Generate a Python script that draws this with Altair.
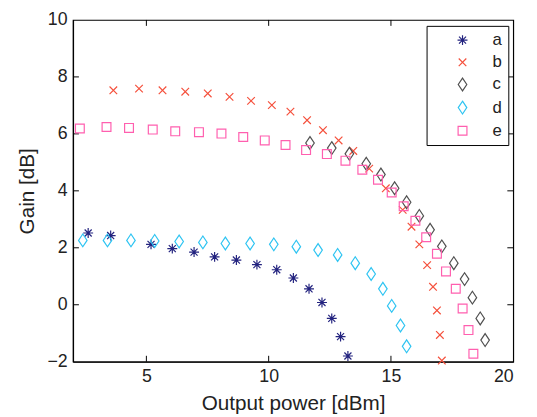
import altair as alt
import pandas as pd

# ---- data ----
a_x = [2.62, 3.54, 5.19, 6.06, 6.95, 7.79, 8.68, 9.52, 10.33, 11.01, 11.65, 12.18, 12.58, 12.94, 13.24]
a_y = [2.52, 2.43, 2.12, 1.97, 1.85, 1.68, 1.57, 1.41, 1.23, 0.94, 0.56, 0.08, -0.48, -1.12, -1.80]

b_x = [3.65, 4.70, 5.66, 6.59, 7.51, 8.40, 9.28, 10.13, 10.89, 11.57, 12.22, 12.86, 13.46, 14.11, 14.79,
       15.48, 15.84, 16.16, 16.48, 16.72, 16.88, 17.00, 17.08]
b_y = [7.53, 7.59, 7.53, 7.48, 7.42, 7.30, 7.16, 7.01, 6.78, 6.48, 6.13, 5.77, 5.40, 4.78, 4.09,
       3.33, 2.74, 2.12, 1.39, 0.63, -0.20, -1.06, -1.96]

c_x = [11.69, 12.58, 13.30, 13.99, 14.59, 15.15, 15.64, 16.16, 16.60, 17.08, 17.57, 18.01, 18.33, 18.65, 18.85]
c_y = [5.68, 5.50, 5.30, 4.95, 4.57, 4.09, 3.60, 3.12, 2.63, 2.05, 1.46, 0.90, 0.25, -0.48, -1.24]

d_x = [2.40, 3.41, 4.37, 5.34, 6.34, 7.31, 8.23, 9.24, 10.21, 11.13, 12.02, 12.82, 13.54, 14.19, 14.67,
       15.03, 15.39, 15.64]
d_y = [2.26, 2.26, 2.26, 2.24, 2.22, 2.19, 2.15, 2.15, 2.12, 2.04, 1.92, 1.75, 1.46, 1.08, 0.56,
       -0.04, -0.73, -1.46]

e_x = [2.28, 3.37, 4.29, 5.26, 6.18, 7.15, 8.07, 8.96, 9.84, 10.69, 11.53, 12.38, 13.14, 13.83, 14.47,
       15.03, 15.52, 16.00, 16.44, 16.88, 17.25, 17.65, 17.93, 18.17, 18.37]
e_y = [6.19, 6.24, 6.21, 6.15, 6.09, 6.06, 6.01, 5.89, 5.77, 5.61, 5.43, 5.29, 5.06, 4.74, 4.39,
       3.94, 3.46, 2.95, 2.37, 1.79, 1.17, 0.56, -0.13, -0.89, -1.72]

series_names = ["a", "b", "c", "d", "e"]
series_x = [a_x, b_x, c_x, d_x, e_x]
series_y = [a_y, b_y, c_y, d_y, e_y]

x_ticks = [5, 10, 15, 20]
y_ticks = [-2, 0, 2, 4, 6, 8, 10]

rows = []
for name, xs, ys in zip(series_names, series_x, series_y):
    for xv, yv in zip(xs, ys):
        rows.append({"series": name, "power": xv, "gain": yv})
df = pd.DataFrame(rows)

W, H = 447, 347
FONT = "Liberation Sans"

colors = ["#23237f", "#f5503c", "#505050", "#2ec4f2", "#ff5faf"]
shapes = [
    "M0,-0.72L0,0.72M-0.72,0L0.72,0M-0.51,-0.51L0.51,0.51M-0.51,0.51L0.51,-0.51",
    "M-0.55,-0.55L0.55,0.55M-0.55,0.55L0.55,-0.55",
    "M0,-0.93L0.62,0L0,0.93L-0.62,0Z",
    "M0,-0.93L0.62,0L0,0.93L-0.62,0Z",
    "M-0.64,-0.64H0.64V0.64H-0.64Z",
]

xscale = alt.Scale(domain=[2, 20], nice=False, zero=False)
yscale = alt.Scale(domain=[-2, 10], nice=False, zero=False)

points = alt.Chart(df).mark_point(filled=False, strokeWidth=1.2, opacity=1, size=196).encode(
    x=alt.X("power:Q", scale=xscale,
            axis=alt.Axis(title="Output power [dBm]", values=x_ticks, ticks=False,
                          labelPadding=6, titlePadding=8)),
    y=alt.Y("gain:Q", scale=yscale,
            axis=alt.Axis(title="Gain [dB]", values=y_ticks, ticks=False,
                          labelPadding=6, titlePadding=10)),
    color=alt.Color("series:N", scale=alt.Scale(domain=series_names, range=colors),
                    legend=alt.Legend(title=None, labelExpr="datum.label + '\u00a0'")),
    shape=alt.Shape("series:N", scale=alt.Scale(domain=series_names, range=shapes),
                    legend=alt.Legend(title=None, labelExpr="datum.label + '\u00a0'")),
)

xt = pd.DataFrame({"t": x_ticks[:-1]})
yt = pd.DataFrame({"t": y_ticks[1:-1]})
TL = 6
tick_bottom = alt.Chart(xt).mark_rule(color="black", strokeWidth=1).encode(
    x=alt.X("t:Q", scale=xscale), y=alt.value(H), y2=alt.value(H - TL))
tick_top = alt.Chart(xt).mark_rule(color="black", strokeWidth=1).encode(
    x=alt.X("t:Q", scale=xscale), y=alt.value(0), y2=alt.value(TL))
tick_left = alt.Chart(yt).mark_rule(color="black", strokeWidth=1).encode(
    y=alt.Y("t:Q", scale=yscale), x=alt.value(0), x2=alt.value(TL))
tick_right = alt.Chart(yt).mark_rule(color="black", strokeWidth=1).encode(
    y=alt.Y("t:Q", scale=yscale), x=alt.value(W - TL), x2=alt.value(W))

chart = alt.layer(tick_bottom, tick_top, tick_left, tick_right, points).properties(
    width=W, height=H,
    autosize="none",
    padding={"left": 66, "top": 9, "right": 16, "bottom": 53},
).configure_view(
    stroke="black", strokeWidth=1.2
).configure_axis(
    domainColor="black", domainWidth=1.2, grid=False,
    labelFont=FONT, labelFontSize=18, labelColor="#222222",
    titleFont=FONT, titleFontSize=21, titleFontWeight="normal", titleColor="#222222",
).configure_legend(
    orient="none", legendX=359, legendY=6,
    strokeColor="black", fillColor="white", padding=6,
    labelFont=FONT, labelFontSize=17, labelColor="#222222",
    rowPadding=4.5, labelOffset=22, symbolOffset=22, symbolStrokeWidth=1.2,
    symbolSize=196,
)

chart.save("out.html", embed_options={"renderer": "svg", "actions": False})
